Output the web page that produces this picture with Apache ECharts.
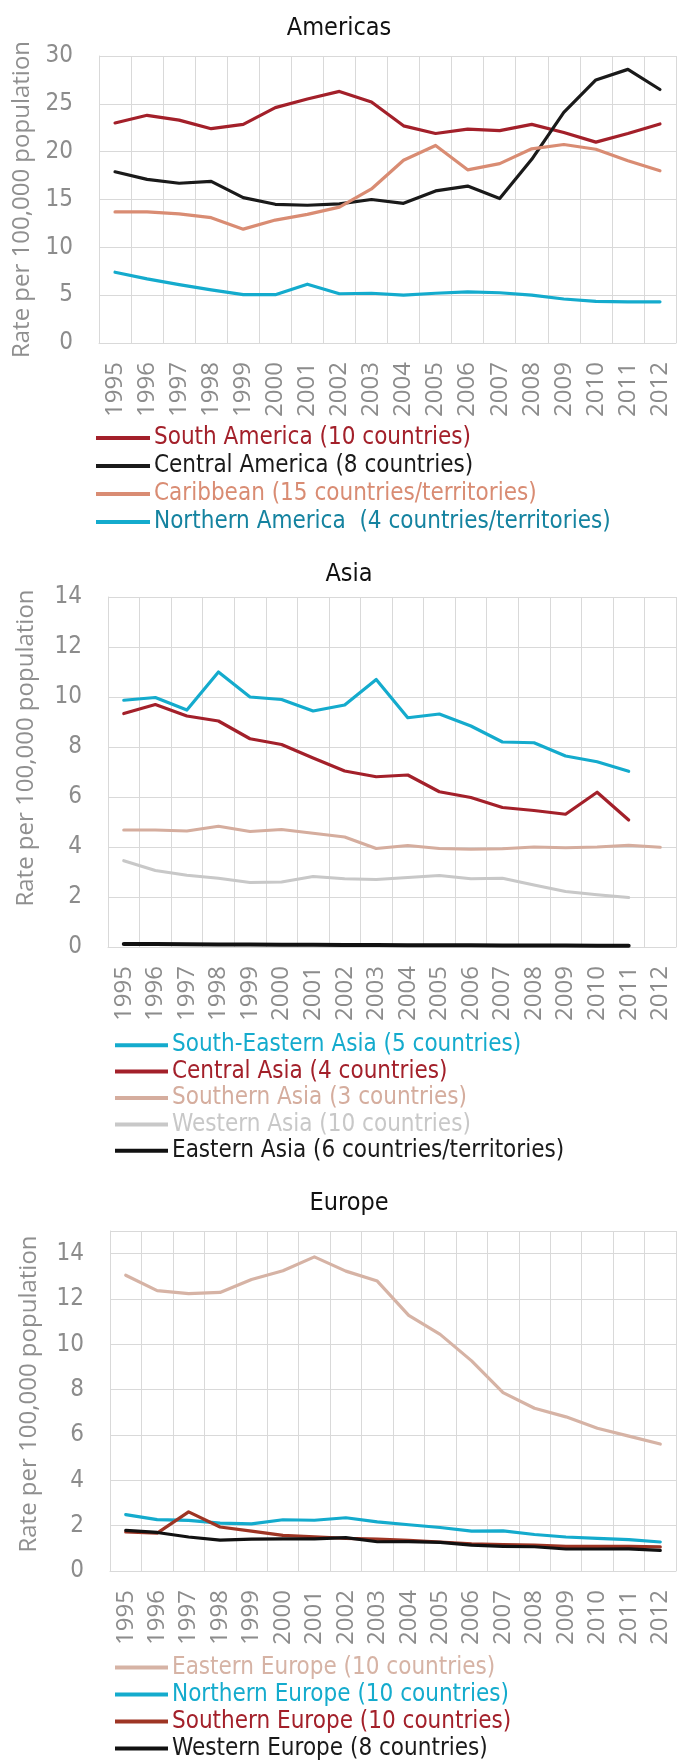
<!DOCTYPE html>
<html>
<head>
<meta charset="utf-8">
<script src="https://cdn.jsdelivr.net/npm/echarts/dist/echarts.min.js"></script>
<style>
    html, body { margin: 0; padding: 0; background: #fff; }
    #chart { width: 677px; height: 1764px; }
</style>
</head>
<body>
<div id="chart"></div>
<script>
// 年份
const years = ['1995', '1996', '1997', '1998', '1999', '2000', '2001', '2002', '2003',
    '2004', '2005', '2006', '2007', '2008', '2009', '2010', '2011', '2012'];

// Americas
const southAmerica = [23.0, 23.8, 23.3, 22.4, 22.85, 24.6, 25.5, 26.3, 25.2, 22.7, 21.9, 22.35, 22.2, 22.85, 22.0, 21.0, 21.9, 22.9];
const centralAmerica = [17.9, 17.1, 16.7, 16.9, 15.2, 14.5, 14.4, 14.55, 15.0, 14.6, 15.9, 16.4, 15.1, 19.2, 24.1, 27.5, 28.6, 26.5];
const caribbean = [13.7, 13.7, 13.5, 13.1, 11.9, 12.85, 13.45, 14.2, 16.1, 19.1, 20.65, 18.1, 18.75, 20.3, 20.75, 20.25, 19.05, 18.0];
const northernAmerica = [7.4, 6.7, 6.1, 5.55, 5.05, 5.05, 6.15, 5.15, 5.2, 5.0, 5.2, 5.35, 5.25, 5.0, 4.6, 4.35, 4.3, 4.3];

// Asia
const southEasternAsia = [9.87, 9.98, 9.48, 11.0, 10.0, 9.9, 9.44, 9.68, 10.7, 9.17, 9.32, 8.84, 8.2, 8.17, 7.64, 7.41, 7.03, null];
const centralAsia = [9.34, 9.7, 9.24, 9.04, 8.33, 8.1, 7.56, 7.04, 6.81, 6.88, 6.21, 5.98, 5.58, 5.46, 5.31, 6.19, 5.08, null];
const southernAsia = [4.68, 4.68, 4.64, 4.83, 4.62, 4.7, 4.55, 4.4, 3.94, 4.06, 3.94, 3.91, 3.93, 4.0, 3.97, 4.0, 4.07, 3.99];
const westernAsia = [3.45, 3.06, 2.87, 2.75, 2.58, 2.6, 2.82, 2.73, 2.7, 2.78, 2.86, 2.73, 2.75, 2.48, 2.22, 2.09, 1.98, null];
const easternAsia = [0.12, 0.12, 0.11, 0.1, 0.1, 0.09, 0.09, 0.08, 0.08, 0.07, 0.07, 0.07, 0.06, 0.06, 0.06, 0.05, 0.05, null];

// Europe
const easternEurope = [13.05, 12.37, 12.24, 12.29, 12.86, 13.25, 13.86, 13.23, 12.79, 11.28, 10.44, 9.27, 7.87, 7.18, 6.8, 6.3, 5.95, 5.6];
const northernEurope = [2.49, 2.27, 2.23, 2.11, 2.08, 2.26, 2.24, 2.35, 2.17, 2.04, 1.92, 1.76, 1.77, 1.61, 1.5, 1.44, 1.38, 1.28];
const southernEurope = [1.72, 1.67, 2.61, 1.94, 1.76, 1.57, 1.51, 1.44, 1.41, 1.35, 1.28, 1.2, 1.17, 1.14, 1.09, 1.09, 1.09, 1.06];
const westernEurope = [1.79, 1.7, 1.5, 1.36, 1.41, 1.42, 1.42, 1.47, 1.29, 1.3, 1.26, 1.14, 1.09, 1.07, 0.97, 0.97, 0.98, 0.91];

const narrowFont = '"Liberation Sans Narrow", "DejaVu Sans Condensed", sans-serif';
const wideFont = '"Open Sans", "DejaVu Sans", sans-serif';
const gridColor = '#d9d9d9';
const axisTextColor = '#8c8c8c';

// 三个面板的配置
const panels = [
    {
        title: 'Americas', titleX: 334, titleY: 11,
        grid: { left: 99, top: 56, width: 577, height: 287 },
        yMax: 30, yInterval: 5, namePadding: [0, 0, 0, 0], nameGap: 62,
        legendLeft: 96, legendTop: 424, legendLine: 28, legendIconW: 54,
        lines: [
            { name: 'South America (10 countries)', data: southAmerica, color: '#a3202a', text: '#a3202a' },
            { name: 'Central America (8 countries)', data: centralAmerica, color: '#1a1a1a', text: '#1a1a1a' },
            { name: 'Caribbean (15 countries/territories)', data: caribbean, color: '#d98c73', text: '#d98c73' },
            { name: 'Northern America  (4 countries/territories)', data: northernAmerica, color: '#14abcd', text: '#1583a0' }
        ]
    },
    {
        title: 'Asia', titleX: 344, titleY: 557,
        grid: { left: 108, top: 597, width: 568, height: 350 },
        yMax: 14, yInterval: 2, namePadding: [0, 0, 0, 48], nameGap: 71,
        legendLeft: 115, legendTop: 1032, legendLine: 26.4, legendIconW: 53,
        lines: [
            { name: 'South-Eastern Asia (5 countries)', data: southEasternAsia, color: '#14abcd', text: '#14abcd' },
            { name: 'Central Asia (4 countries)', data: centralAsia, color: '#a3202a', text: '#a3202a' },
            { name: 'Southern Asia (3 countries)', data: southernAsia, color: '#d5ad9e', text: '#d5ad9e' },
            { name: 'Western Asia (10 countries)', data: westernAsia, color: '#c8c8c8', text: '#c8c8c8' },
            { name: 'Eastern Asia (6 countries/territories)', data: easternAsia, color: '#111111', text: '#1a1a1a', width: 4 }
        ]
    },
    {
        title: 'Europe', titleX: 344, titleY: 1186,
        grid: { left: 110, top: 1231, width: 566, height: 340 },
        yMax: 15, yInterval: 2, namePadding: [0, 0, 0, 14], nameGap: 70,
        legendLeft: 115, legendTop: 1654, legendLine: 27, legendIconW: 53,
        lines: [
            { name: 'Eastern Europe (10 countries)', data: easternEurope, color: '#d6b3a5', text: '#d6b3a5' },
            { name: 'Northern Europe (10 countries)', data: northernEurope, color: '#14abcd', text: '#14abcd' },
            { name: 'Southern Europe (10 countries)', data: southernEurope, color: '#9e3524', text: '#a3202a' },
            { name: 'Western Europe (8 countries)', data: westernEurope, color: '#111111', text: '#1a1a1a' }
        ]
    }
];

const option = {
    backgroundColor: '#fff',
    animation: false,
    title: [], grid: [], xAxis: [], yAxis: [], legend: [], series: []
};

panels.forEach((p, i) => {
    option.title.push({
        text: p.title,
        left: p.titleX,
        top: p.titleY,
        textAlign: 'center',
        textStyle: { fontFamily: narrowFont, fontSize: 25, fontWeight: 'normal', color: '#111' }
    });
    option.grid.push(Object.assign({ outerBoundsMode: 'none', containLabel: false }, p.grid));
    option.xAxis.push({
        type: 'category',
        gridIndex: i,
        data: years,
        boundaryGap: true,
        axisLine: { show: true, lineStyle: { color: gridColor, width: 1 } },
        axisTick: { show: false },
        splitLine: { show: true, interval: 0, lineStyle: { color: gridColor, width: 1 } },
        axisLabel: {
            interval: 0, rotate: 90, margin: 19,
            fontFamily: wideFont, fontSize: 24, color: axisTextColor
        }
    });
    option.yAxis.push({
        type: 'value',
        gridIndex: i,
        min: 0,
        max: p.yMax,
        interval: p.yInterval,
        name: 'Rate per 100,000 population',
        nameLocation: 'middle',
        nameGap: p.nameGap - 1,
        nameTextStyle: { fontFamily: wideFont, fontSize: 24, color: '#8f8f8f', padding: p.namePadding },
        axisLine: { show: true, lineStyle: { color: gridColor, width: 1 } },
        axisTick: { show: false },
        splitLine: { show: true, lineStyle: { color: gridColor, width: 1 } },
        axisLabel: {
            margin: 26, showMaxLabel: p.yMax % p.yInterval === 0,
            fontFamily: narrowFont, fontSize: 24, color: axisTextColor
        }
    });
    option.legend.push({
        orient: 'vertical',
        left: p.legendLeft,
        top: p.legendTop,
        height: 200,
        padding: 0,
        itemGap: 0,
        icon: 'rect',
        itemWidth: p.legendIconW,
        itemHeight: 4,
        data: p.lines.map(l => ({ name: l.name, textStyle: { color: l.text } })),
        textStyle: { fontFamily: narrowFont, fontSize: 24, lineHeight: p.legendLine, padding: [0, 0, 0, -1] }
    });
    p.lines.forEach(l => {
        option.series.push({
            name: l.name,
            type: 'line',
            xAxisIndex: i,
            yAxisIndex: i,
            data: l.data,
            symbol: 'none',
            connectNulls: false,
            color: l.color,
            lineStyle: { color: l.color, width: l.width || 3.2, join: 'round', cap: 'round' }
        });
    });
});

const chart = echarts.init(document.getElementById('chart'));
chart.setOption(option);
</script>
</body>
</html>
